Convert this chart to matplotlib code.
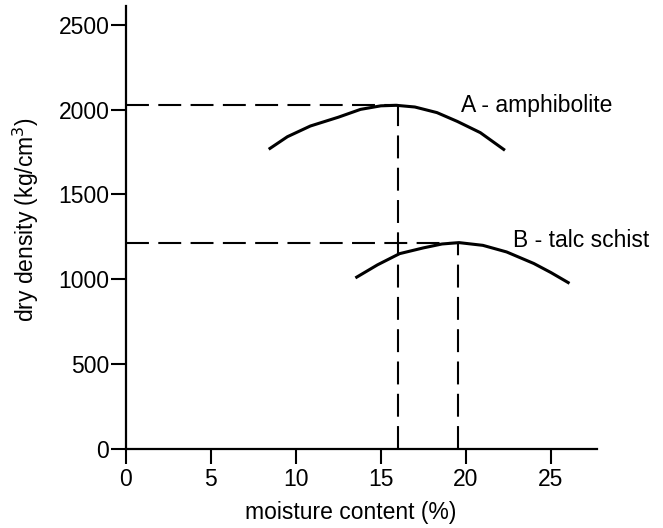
import matplotlib
matplotlib.use('Agg')
from matplotlib import pyplot as plt

# values
a_moist = [8.4, 9.5, 10.85, 12.5, 13.8, 15.0, 15.9, 17.0, 18.3, 19.5, 20.85, 22.3]
a_dens = [1766, 1840, 1903, 1955, 2001, 2022, 2025, 2015, 1982, 1930, 1864, 1760]
b_moist = [13.5, 14.8, 16.1, 17.5, 18.6, 19.6, 21.0, 22.4, 24.0, 25.0, 26.1]
b_dens = [1008, 1085, 1151, 1185, 1208, 1216, 1200, 1161, 1093, 1040, 976]

# optimum points (max dry density)
a_opt = (16.0, 2025)
b_opt = (19.56, 1216)

xticks = [0, 5, 10, 15, 20, 25]
yticks = [0, 500, 1000, 1500, 2000, 2500]

plt.rcParams['font.family'] = ['Liberation Sans', 'DejaVu Sans']
fs = 16.5

fig = plt.figure(figsize=(6.63, 5.28), dpi=100)
ax = fig.add_axes([0.19, 0.1496, 0.71, 0.839])

ax.plot(a_moist, a_dens, color='black', lw=2.2, solid_capstyle='butt')
ax.plot(b_moist, b_dens, color='black', lw=2.2, solid_capstyle='butt')

dash = (11, 4.5)
for xo, yo in [a_opt, b_opt]:
	ax.plot([0, xo], [yo, yo], color='black', lw=1.5, dashes=dash)
	ax.plot([xo, xo], [0, yo], color='black', lw=1.5, dashes=dash)

ax.text(19.7, 1984, 'A - amphibolite', fontsize=fs, va='baseline', ha='left')
ax.text(22.78, 1190, 'B - talc schist', fontsize=fs, va='baseline', ha='left')

ax.set_xlim(0, 27.7)
ax.set_ylim(0, 2610)
ax.set_xticks(xticks)
ax.set_yticks(yticks)
ax.tick_params(direction='out', length=11, width=1.5, labelsize=fs)
ax.tick_params(axis='y', pad=1)
ax.tick_params(axis='x', pad=3)
for s in ['top', 'right']:
	ax.spines[s].set_visible(False)
for s in ['left', 'bottom']:
	ax.spines[s].set_linewidth(1.6)

ax.set_xlabel('moisture content (%)', fontsize=fs)
ax.set_ylabel('dry density (kg/cm$^3$)', fontsize=fs)
ax.xaxis.set_label_coords(0.478, -0.118)
ax.yaxis.set_label_coords(-0.18, 0.517)

plt.savefig('out.png', dpi=100)
plt.close()
